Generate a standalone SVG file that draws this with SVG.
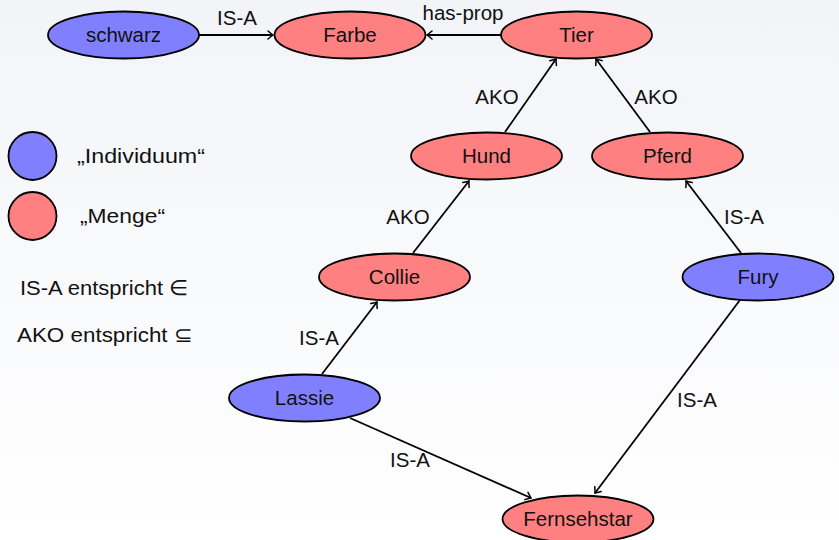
<svg xmlns="http://www.w3.org/2000/svg" width="839" height="540" viewBox="0 0 839 540">
<defs>
<linearGradient id="bg" x1="0" y1="0" x2="0" y2="1">
<stop offset="0" stop-color="#f3f4f8"/>
<stop offset="1" stop-color="#ffffff"/>
</linearGradient>
<marker id="arr" viewBox="-6 -5 7 10" refX="0" refY="0" markerWidth="7" markerHeight="10" markerUnits="userSpaceOnUse" orient="auto">
<path d="M -5 -4 Q -1.5 -1 0 0 Q -1.5 1 -5 4" fill="none" stroke="#000" stroke-width="1.5" stroke-linecap="round"/>
</marker>
<style>
text{font-family:"Liberation Sans",Arial,sans-serif;font-size:20.5px;fill:#111}
.n text{text-anchor:middle}
.ind{fill:#8080ff;stroke:#000;stroke-width:1.8}
.set{fill:#ff8080;stroke:#000;stroke-width:1.8}
.e line{stroke:#000;stroke-width:1.8;marker-end:url(#arr)}
.lbl{text-anchor:middle}
.lg{font-size:21px}
</style>
</defs>
<rect width="839" height="540" fill="url(#bg)"/>
<g id="edges" class="e">
<line x1="199" y1="35" x2="273" y2="35"/>
<line x1="501" y1="35" x2="427" y2="35"/>
<line x1="505" y1="132" x2="556" y2="59"/>
<line x1="650" y1="132" x2="596" y2="59"/>
<line x1="413" y1="253" x2="469" y2="181"/>
<line x1="741" y1="253" x2="686" y2="181"/>
<line x1="322" y1="374" x2="377" y2="302"/>
<line x1="350" y1="418" x2="531" y2="498"/>
<line x1="740" y1="300" x2="595" y2="493"/>
</g>
<g id="edge-labels">
<text class="lbl" x="237" y="25">IS-A</text>
<text class="lbl" x="463" y="20">has-prop</text>
<text class="lbl" x="497" y="104">AKO</text>
<text class="lbl" x="656" y="104">AKO</text>
<text class="lbl" x="408" y="224">AKO</text>
<text class="lbl" x="744" y="224">IS-A</text>
<text class="lbl" x="319" y="345">IS-A</text>
<text class="lbl" x="410" y="467">IS-A</text>
<text class="lbl" x="697" y="407">IS-A</text>
</g>
<g id="schwarz" class="n"><ellipse class="ind" cx="123.5" cy="35" rx="75.5" ry="23.5"/><text x="123.5" y="42">schwarz</text></g>
<g id="Farbe" class="n"><ellipse class="set" cx="350" cy="35" rx="75.5" ry="23.5"/><text x="350" y="42">Farbe</text></g>
<g id="Tier" class="n"><ellipse class="set" cx="576.5" cy="35" rx="75.5" ry="23.5"/><text x="576.5" y="42">Tier</text></g>
<g id="Hund" class="n"><ellipse class="set" cx="486.5" cy="156" rx="75.5" ry="23.5"/><text x="486.5" y="163">Hund</text></g>
<g id="Pferd" class="n"><ellipse class="set" cx="667.5" cy="156" rx="75.5" ry="23.5"/><text x="667.5" y="163">Pferd</text></g>
<g id="Collie" class="n"><ellipse class="set" cx="394.5" cy="277" rx="75.5" ry="23.5"/><text x="394.5" y="284">Collie</text></g>
<g id="Fury" class="n"><ellipse class="ind" cx="758" cy="277" rx="75.5" ry="23.5"/><text x="758" y="284">Fury</text></g>
<g id="Lassie" class="n"><ellipse class="ind" cx="304.5" cy="398" rx="75.5" ry="23.5"/><text x="304.5" y="405">Lassie</text></g>
<g id="Fernsehstar" class="n"><ellipse class="set" cx="578" cy="519" rx="75.5" ry="23.5"/><text x="578" y="526">Fernsehstar</text></g>
<g id="legend">
<circle class="ind" cx="32.5" cy="156" r="24"/>
<text class="lg" x="77" y="163" textLength="128" lengthAdjust="spacingAndGlyphs">„Individuum“</text>
<circle class="set" cx="32.5" cy="216" r="24"/>
<text class="lg" x="80" y="223" textLength="85" lengthAdjust="spacingAndGlyphs">„Menge“</text>
<text class="lg" x="20" y="295" textLength="168" lengthAdjust="spacingAndGlyphs">IS-A entspricht ∈</text>
<text class="lg" x="17" y="342" textLength="176" lengthAdjust="spacingAndGlyphs">AKO entspricht ⊆</text>
</g>
</svg>
